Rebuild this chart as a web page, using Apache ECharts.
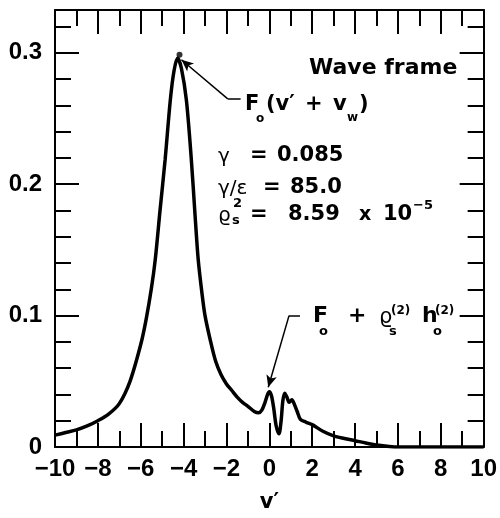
<!DOCTYPE html>
<html><head><meta charset="utf-8">
<script src="https://cdn.jsdelivr.net/npm/echarts@6/dist/echarts.min.js"></script>
<style>html,body{margin:0;padding:0;background:#fff}#c{width:500px;height:518px}</style>
</head><body><div id="c"></div>
<script>
// ---- data ----
const vPrime = [-10, -9.5, -9, -8.5, -8, -7.5, -7, -6.5, -6, -5.75, -5.5, -5.32, -5.1, -4.86, -4.62, -4.45, -4.28, -4.1, -3.87, -3.64, -3.48, -3.32, -3.15, -3.0, -2.75, -2.5, -2.25, -2.0, -1.75, -1.5, -1.25, -1.0, -0.7, -0.5, -0.35, -0.2, -0.08, 0, 0.1, 0.2, 0.32, 0.45, 0.55, 0.63, 0.72, 0.82, 0.92, 1.05, 1.18, 1.3, 1.45, 1.7, 2.0, 2.5, 3.0, 3.5, 4.0, 4.5, 5.0, 5.5, 6.0, 7, 8, 9, 10];
const fValues = [0.009, 0.011, 0.013, 0.016, 0.020, 0.025, 0.033, 0.050, 0.078, 0.097, 0.121, 0.143, 0.180, 0.219, 0.264, 0.286, 0.296, 0.288, 0.264, 0.219, 0.180, 0.143, 0.118, 0.100, 0.081, 0.065, 0.055, 0.048, 0.043, 0.038, 0.034, 0.031, 0.027, 0.026, 0.028, 0.034, 0.040, 0.042, 0.039, 0.030, 0.016, 0.010, 0.020, 0.035, 0.041, 0.038, 0.034, 0.036, 0.032, 0.027, 0.021, 0.019, 0.017, 0.012, 0.0085, 0.0065, 0.0048, 0.003, 0.0015, 0.0006, 0, 0, 0, 0, 0];
const peakPoint = [[-4.19, 0.2985]];
const yTickLabels = ['0', '0.1', '0.2', '0.3'];
const xRange = [-10, 10];
const yRange = [0, 0.3326];

// annotation leader lines (data coordinates)
const leader1 = [[-1.34, 0.265], [-1.94, 0.265], [-4.10, 0.2947]];
const leader2 = [[1.43, 0.1], [0.92, 0.1], [-0.05, 0.0455]];

const TICKFONT = '"Liberation Sans Narrow", "Liberation Sans", Arial, sans-serif';
const ANNFONT = '"DejaVu Sans", sans-serif';

const series1 = vPrime.map((v, i) => [v, fValues[i]]);

function xAxisCfg(pos, showLabel) {
  return {
    type: 'value', position: pos, min: xRange[0], max: xRange[1], interval: 2,
    axisLine: {show: true, onZero: false, lineStyle: {color: '#000', width: 2}},
    axisTick: {show: true, inside: true, length: 24, lineStyle: {color: '#000', width: 2}},
    minorTick: {show: true, splitNumber: 2, length: 16, lineStyle: {color: '#000', width: 2}},
    splitLine: {show: false}, minorSplitLine: {show: false},
    axisLabel: {show: showLabel, margin: 10, color: '#000', fontFamily: TICKFONT, fontWeight: 'bold', fontSize: 24,
      formatter: v => (v < 0 ? '\u2212' : '') + Math.abs(v)},
    name: showLabel ? 'v\u2032' : '', nameLocation: 'middle', nameGap: 45,
    nameTextStyle: {color: '#000', fontFamily: ANNFONT, fontWeight: 'bold', fontSize: 21}
  };
}
function yAxisCfg(pos, showLabel) {
  return {
    type: 'value', position: pos, min: yRange[0], max: yRange[1], interval: 0.1,
    axisLine: {show: true, onZero: false, lineStyle: {color: '#000', width: 2}},
    axisTick: {show: true, inside: true, length: 24, lineStyle: {color: '#000', width: 2}},
    minorTick: {show: true, splitNumber: 5, length: 16, lineStyle: {color: '#000', width: 2}},
    splitLine: {show: false}, minorSplitLine: {show: false},
    axisLabel: {show: showLabel, margin: 13, color: '#000', fontFamily: TICKFONT, fontWeight: 'bold', fontSize: 24,
      formatter: v => { const k = Math.round(v * 10); return Math.abs(v * 10 - k) < 1e-6 && k < yTickLabels.length ? yTickLabels[k] : ''; }}
  };
}

function t(x, y, text, size, weight, family) {
  return {type: 'text', x: x, y: y, silent: true,
    style: {text: text, fill: '#000', fontSize: size, fontWeight: weight || 'bold', fontFamily: family || ANNFONT,
      align: 'left', verticalAlign: 'middle', textAlign: 'left', textVerticalAlign: 'middle'}};
}

const graphics = [
  t(309, 68.5, 'Wave frame', 22),
  // F_o (v' + v_w)
  t(245, 104.5, 'F', 21), t(256, 118.5, 'o', 12),
  t(266, 104.5, '(v\u2032', 21), t(305, 104.5, '+', 21), t(333, 104.5, 'v', 21), t(347, 117.5, 'w', 12), t(359, 104.5, ')', 21),
  // gamma line
  t(218, 157, '\u03b3', 20, 'normal'), t(250, 155.5, '=', 21), t(277, 155.5, '0.085', 21),
  // gamma/epsilon
  t(218, 189, '\u03b3/\u03b5', 20, 'normal'), t(263, 187.5, '=', 21), t(290, 187.5, '85.0', 21),
  // rho_s^2
  t(218, 216, '\u03f1', 20, 'normal'), t(233, 204, '2', 13), t(232, 221, 's', 13),
  t(250, 214.5, '=', 21), t(288, 214.5, '8.59', 21), t(359, 215.5, 'x', 19), t(383, 214.5, '10', 21), t(413, 206, '\u22125', 13),
  // F_o + rho_s^(2) h_o^(2)
  t(313, 316, 'F', 22), t(319, 332, 'o', 13), t(348, 316, '+', 22),
  t(379, 318, '\u03f1', 21, 'normal'), t(391, 311, '(2)', 12), t(389, 332, 's', 13),
  t(422, 316, 'h', 22), t(435, 311, '(2)', 12), t(433, 332, 'o', 13)
];

function seg(a, b, arrow) {
  return [{coord: a, symbol: 'none'}, {coord: b, symbol: arrow ? 'arrow' : 'none'}];
}

const chart = echarts.init(document.getElementById('c'), null, {renderer: 'canvas'});
chart.setOption({
  animation: false,
  backgroundColor: '#fff',
  grid: {left: 55, right: 11, top: 10, bottom: 69, containLabel: false},
  xAxis: [xAxisCfg('bottom', true), xAxisCfg('top', false)],
  yAxis: [yAxisCfg('left', true), yAxisCfg('right', false)],
  series: [
    {type: 'line', data: series1, xAxisIndex: 0, yAxisIndex: 0, symbol: 'none', smooth: 0.3,
      lineStyle: {color: '#000', width: 3.5}, clip: true,
      markLine: {silent: true, animation: false, symbolSize: [8, 12], label: {show: false},
        lineStyle: {color: '#000', width: 1.5, type: 'solid'},
        data: [seg(leader1[0], leader1[1], false), seg(leader1[1], leader1[2], true),
               seg(leader2[0], leader2[1], false), seg(leader2[1], leader2[2], true)]}},
    {type: 'scatter', data: peakPoint, symbol: 'circle', symbolSize: 6, itemStyle: {color: '#000'}, silent: true}
  ],
  graphic: graphics
});
</script></body></html>
